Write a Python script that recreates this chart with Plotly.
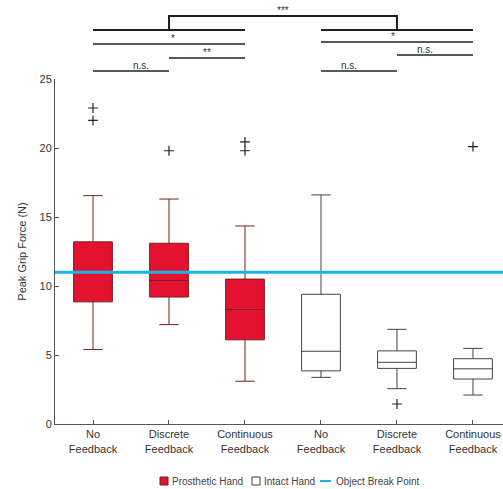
import plotly.graph_objects as go

# ---- data ----
categories = ["No<br>Feedback", "Discrete<br>Feedback", "Continuous<br>Feedback",
              "No<br>Feedback", "Discrete<br>Feedback", "Continuous<br>Feedback"]
positions = [1, 2, 3, 4, 5, 6]

pros_q1 = [8.85, 9.2, 6.1]
pros_median = [11.0, 10.4, 8.3]
pros_q3 = [13.2, 13.1, 10.5]
pros_low = [5.4, 7.2, 3.1]
pros_high = [16.55, 16.3, 14.35]

intact_q1 = [3.85, 4.03, 3.26]
intact_median = [5.27, 4.47, 4.0]
intact_q3 = [9.4, 5.3, 4.73]
intact_low = [3.38, 2.56, 2.1]
intact_high = [16.6, 6.86, 5.48]

outlier_x = [1, 1, 2, 3, 3, 5, 6]
outlier_y = [22.9, 22.0, 19.8, 20.45, 19.8, 1.45, 20.1]

break_point = 11.0

legend_names = ["Prosthetic Hand", "Intact Hand", "Object Break Point"]

# significance brackets: (x0, x1, label)
sig_pairs = [
    (2, 5, "***"),
    (1, 3, "*"),
    (4, 6, "*"),
    (2, 3, "**"),
    (5, 6, "n.s."),
    (1, 2, "n.s."),
    (4, 5, "n.s."),
]

# ---- layout geometry ----
W, H = 503, 489
ML, MR, MT, MB = 55, 0, 79, 65
XR = [0.5, 6.395]
plot_h = H - MT - MB
plot_w = W - ML - MR

RED = "#E3132F"
RED_EDGE = "#7A1F22"
CYAN = "#1BB3E6"
GRAY = "#444444"
INK = "#222222"


def xp(x):
    return (x - XR[0]) / (XR[1] - XR[0])


def xpx(px):
    return (px - ML) / plot_w


def yp(py):
    return (H - MB - py) / plot_h


fig = go.Figure()

fig.add_trace(go.Box(
    x=positions[:3], q1=pros_q1, median=pros_median, q3=pros_q3,
    lowerfence=pros_low, upperfence=pros_high,
    name=legend_names[0], fillcolor=RED,
    line=dict(color=RED_EDGE, width=1), width=0.51, whiskerwidth=0.5,
    boxpoints=False, hoverinfo="skip",
))
fig.add_trace(go.Box(
    x=positions[3:], q1=intact_q1, median=intact_median, q3=intact_q3,
    lowerfence=intact_low, upperfence=intact_high,
    name=legend_names[1], fillcolor="white",
    line=dict(color=GRAY, width=1), width=0.51, whiskerwidth=0.5,
    boxpoints=False, hoverinfo="skip",
))
fig.add_trace(go.Scatter(
    x=outlier_x, y=outlier_y, mode="markers", hoverinfo="skip",
    marker=dict(symbol="cross-thin", size=7, line=dict(color=INK, width=1.2)),
))
fig.add_trace(go.Scatter(
    x=XR, y=[break_point, break_point], mode="lines", name=legend_names[2],
    line=dict(color=CYAN, width=3), hoverinfo="skip",
))

# brackets (pixel heights of each bracket row)
rows = [16, 44, 42, 58, 55, 71, 71]
thick = [True, False, False, False, False, False, False]
shapes = []
annos = []
for (x0, x1, lab), py, tk in zip(sig_pairs, rows, thick):
    lw = 2 if tk else 1.3
    if lab == "***":
        shapes.append(dict(type="path", xref="paper", yref="paper",
                           path=f"M {xp(x0)} {yp(30)} L {xp(x0)} {yp(py)} L {xp(x1)} {yp(py)} L {xp(x1)} {yp(30)}",
                           line=dict(color=INK, width=lw)))
    else:
        shapes.append(dict(type="line", xref="paper", yref="paper",
                           x0=xp(x0), x1=xp(x1), y0=yp(py), y1=yp(py),
                           line=dict(color=INK, width=lw)))
    annos.append(dict(x=xp((x0 + x1) / 2), y=yp(py), xref="paper", yref="paper",
                      text=lab, showarrow=False, yanchor="bottom", yshift=-2,
                      font=dict(size=10, color="#333333")))
# thick lines at row 30
for x0, x1 in [(1, 3), (4, 6)]:
    shapes.append(dict(type="line", xref="paper", yref="paper",
                       x0=xp(x0), x1=xp(x1), y0=yp(30), y1=yp(30),
                       line=dict(color=INK, width=2)))

# manual compact legend
LY = 481
shapes.append(dict(type="rect", xref="paper", yref="paper",
                   x0=xpx(160), x1=xpx(168), y0=yp(485), y1=yp(477),
                   fillcolor=RED, line=dict(color=RED_EDGE, width=1)))
shapes.append(dict(type="rect", xref="paper", yref="paper",
                   x0=xpx(252), x1=xpx(260), y0=yp(485), y1=yp(477),
                   fillcolor="white", line=dict(color=GRAY, width=1)))
shapes.append(dict(type="line", xref="paper", yref="paper",
                   x0=xpx(320), x1=xpx(331), y0=yp(LY), y1=yp(LY),
                   line=dict(color=CYAN, width=2)))
for name, px in zip(legend_names, [170, 262, 334]):
    annos.append(dict(x=xpx(px), y=yp(LY), xref="paper", yref="paper",
                      text=name, showarrow=False, xanchor="left", yanchor="middle",
                      font=dict(size=10, color=GRAY)))

fig.update_layout(
    width=W, height=H,
    margin=dict(l=ML, r=MR, t=MT, b=MB, autoexpand=False),
    paper_bgcolor="white", plot_bgcolor="white",
    font=dict(family="Arial, Liberation Sans, sans-serif", size=11, color="#333333"),
    shapes=shapes, annotations=annos,
    showlegend=False, hovermode=False,
    xaxis=dict(range=XR, tickvals=positions, ticktext=categories, automargin=False,
               showline=True, linecolor="#555555", linewidth=1,
               ticks="inside", ticklen=4, tickcolor="#555555",
               showgrid=False, zeroline=False, tickfont=dict(size=11)),
    yaxis=dict(range=[0, 25], tickvals=[0, 5, 10, 15, 20, 25], automargin=False,
               title=dict(text="Peak Grip Force (N)", font=dict(size=11), standoff=10),
               showline=True, linecolor="#555555", linewidth=1,
               ticks="inside", ticklen=4, tickcolor="#555555",
               showgrid=False, zeroline=False, tickfont=dict(size=11)),
)

fig.write_html("out.html", config={"displayModeBar": False},
               post_script="document.body.style.margin='0';document.body.style.overflow='hidden';")
